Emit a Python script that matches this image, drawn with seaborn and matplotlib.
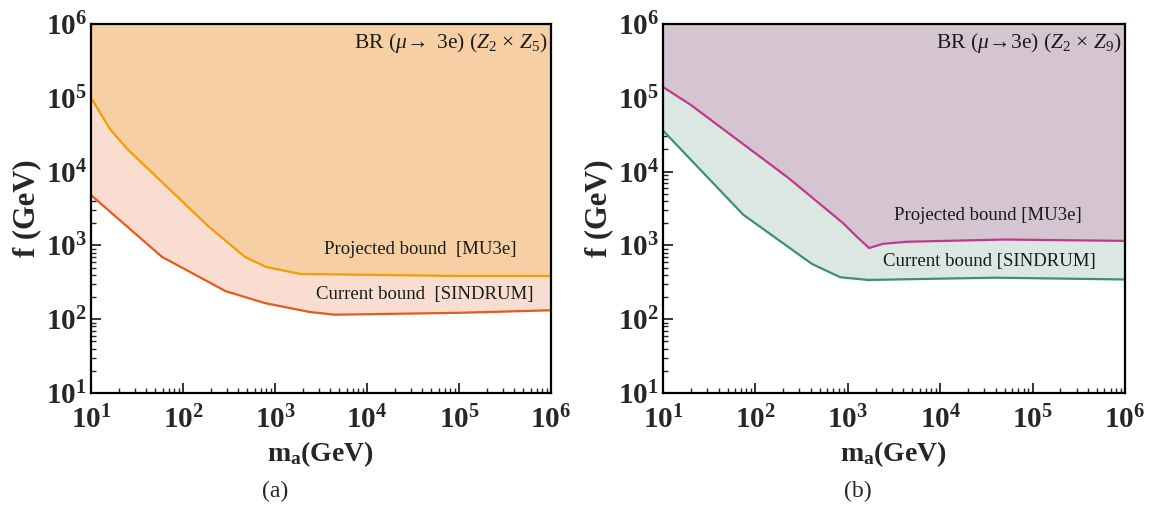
import numpy as np
import pandas as pd
import seaborn as sns
import matplotlib
matplotlib.use("Agg")
import matplotlib.pyplot as plt
from matplotlib.ticker import LogLocator, NullFormatter

# ---- bounds on the flavon decay constant f versus flavon mass m_a ----
# panel (a): Z2 x Z5
ma_proj_a = [10, 16, 25, 190, 470, 800, 1900, 1e5, 1e6]
f_proj_a = [1.0e5, 3.8e4, 2.0e4, 1.8e3, 700, 510, 410, 385, 385]
ma_cur_a = [10, 59, 290, 780, 2400, 4500, 1e5, 1e6]
f_cur_a = [4.8e3, 700, 240, 165, 125, 115, 122, 132]

# panel (b): Z2 x Z9
ma_proj_b = [10, 20, 225, 890, 1260, 1700, 2400, 4400, 5e4, 1e6]
f_proj_b = [1.4e5, 8.0e4, 8.3e3, 2.0e3, 1.3e3, 920, 1.05e3, 1.12e3, 1.2e3, 1.15e3]
ma_cur_b = [10, 74, 410, 830, 1650, 4e4, 1e6]
f_cur_b = [3.6e4, 2.6e3, 560, 370, 340, 365, 345]

titles = [r"BR ($\mu\!\rightarrow$ 3e) ($Z_2$ $\times$ $Z_5$)",
          r"BR ($\mu\!\rightarrow\!$3e) ($Z_2$ $\times$ $Z_9$)"]
proj_labels = ["Projected bound  [MU3e]", "Projected bound [MU3e]"]
cur_labels = ["Current bound  [SINDRUM]", "Current bound [SINDRUM]"]
captions = ["(a)", "(b)"]

decades = [1, 2, 3, 4, 5, 6]
tick_values = [10.0 ** d for d in decades]
tick_labels = [r"$\mathbf{10^{%d}}$" % d for d in decades]

sns.set_theme(style="ticks")
plt.rcParams.update({
    "font.family": ["Liberation Serif", "DejaVu Serif"],
    "mathtext.fontset": "custom",
    "mathtext.rm": "Liberation Serif",
    "mathtext.it": "Liberation Serif:italic",
    "mathtext.bf": "Liberation Serif:bold",
    "axes.linewidth": 1.6,
    "axes.edgecolor": "black",
})

fig = plt.figure(figsize=(11.49, 5.07), dpi=100)
ax_a = fig.add_axes([0.0792, 0.2249, 0.4003, 0.7278])
ax_b = fig.add_axes([0.5770, 0.2249, 0.4021, 0.7278])

panels = [
    (ax_a, ma_proj_a, f_proj_a, ma_cur_a, f_cur_a,
     "#F7CFA4", "#F9DDD0", "#F29D00", "#E65A1A", (0.926, 0.388), (0.961, 0.266)),
    (ax_b, ma_proj_b, f_proj_b, ma_cur_b, f_cur_b,
     "#D4C5D1", "#DAE8E1", "#C2378E", "#3F8F72", (0.907, 0.482), (0.937, 0.355)),
]

for i, (ax, mp, fp, mc, fc, c_top, c_mid, c_proj, c_cur, pos_p, pos_c) in enumerate(panels):
    ax.set_xscale("log")
    ax.set_yscale("log")
    ax.set_xlim(10, 1e6)
    ax.set_ylim(10, 1e6)

    # shared grid so the two bounds can bracket the middle band
    grid = np.logspace(1, 6, 600)
    fp_g = np.exp(np.interp(np.log(grid), np.log(mp), np.log(fp)))
    fc_g = np.exp(np.interp(np.log(grid), np.log(mc), np.log(fc)))
    ax.fill_between(grid, fp_g, 1e6, color=c_top, lw=0, zorder=1)
    ax.fill_between(grid, fc_g, fp_g, color=c_mid, lw=0, zorder=1)

    df_p = pd.DataFrame({"ma": mp, "f": fp})
    df_c = pd.DataFrame({"ma": mc, "f": fc})
    sns.lineplot(data=df_p, x="ma", y="f", ax=ax, color=c_proj, lw=1.6,
                 sort=False, estimator=None, zorder=3)
    sns.lineplot(data=df_c, x="ma", y="f", ax=ax, color=c_cur, lw=1.6,
                 sort=False, estimator=None, zorder=3)

    ax.set_xticks(tick_values, tick_labels)
    ax.set_yticks(tick_values, tick_labels)
    ax.xaxis.set_minor_locator(LogLocator(base=10, subs=np.arange(2, 10), numticks=20))
    ax.yaxis.set_minor_locator(LogLocator(base=10, subs=np.arange(2, 10), numticks=20))
    ax.xaxis.set_minor_formatter(NullFormatter())
    ax.yaxis.set_minor_formatter(NullFormatter())
    ax.tick_params(which="major", direction="in", length=7, width=1.3,
                   labelsize=21, pad=3, top=False, right=False)
    ax.tick_params(which="minor", direction="in", length=3.5, width=1.0,
                   top=False, right=False)
    ax.tick_params(axis="x", which="major", pad=9.5)

    ax.set_xlabel(r"$\mathbf{m_a}$(GeV)", fontsize=20, fontweight="bold", labelpad=3)
    ax.set_ylabel("f (GeV)", fontsize=22, fontweight="bold", labelpad=3)

    ax.text(0.992, 0.948, titles[i], transform=ax.transAxes, ha="right", va="center",
            fontsize=15.5, color="#1a1a1a", zorder=4)
    ax.text(pos_p[0], pos_p[1], proj_labels[i], transform=ax.transAxes, ha="right",
            va="center", fontsize=13.5, color="#1a1a1a", zorder=4)
    ax.text(pos_c[0], pos_c[1], cur_labels[i], transform=ax.transAxes, ha="right",
            va="center", fontsize=13.5, color="#1a1a1a", zorder=4)

    for s in ax.spines.values():
        s.set_zorder(5)

fig.text(0.2393, 0.030, captions[0], ha="center", va="center", fontsize=17)
fig.text(0.7467, 0.030, captions[1], ha="center", va="center", fontsize=17)

fig.savefig("out.png", dpi=100)
